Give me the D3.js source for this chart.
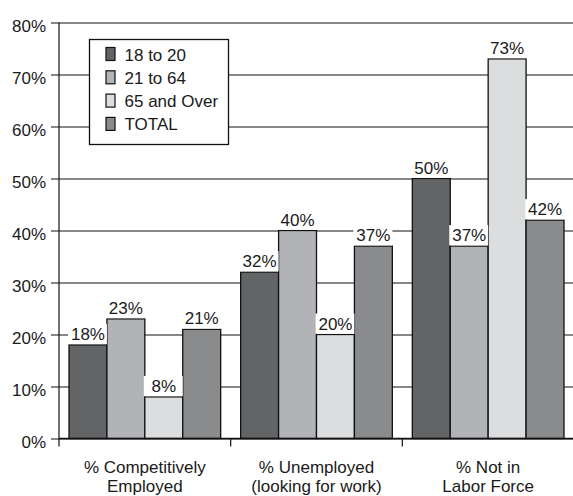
<!DOCTYPE html>
<html>
<head>
<meta charset="utf-8">
<script src="https://cdn.jsdelivr.net/npm/d3@7"></script>
<style>
  html, body { margin: 0; padding: 0; background: #fff; }
  svg { display: block; }
  text { font-family: "Liberation Sans", Arial, Helvetica, sans-serif; fill: #1a1a1a; }
</style>
</head>
<body>
<svg id="chart" width="573" height="496"></svg>
<script>
// Outcome categories (x axis), each drawn on two lines
const categories = [
  ["% Competitively", "Employed"],
  ["% Unemployed", "(looking for work)"],
  ["% Not in", "Labor Force"]
];
const seriesNames = ["18 to 20", "21 to 64", "65 and Over", "TOTAL"];
const seriesColors = ["#636466", "#b1b3b6", "#dcdddf", "#8a8b8d"];

// Percent values per age group, one entry per category
const age18to20 = [18, 32, 50];
const age21to64 = [23, 40, 37];
const age65over = [8, 20, 73];
const total     = [21, 37, 42];
const seriesValues = [age18to20, age21to64, age65over, total];

const yTicks = [0, 10, 20, 30, 40, 50, 60, 70, 80];

const svg = d3.select("#chart");
const margin = { left: 59, right: -1, top: 22.5, bottom: 57.5 };
const W = 573, H = 496;
const plotW = W - margin.left - margin.right;
const plotH = H - margin.top - margin.bottom;

const g = svg.append("g").attr("transform", `translate(${margin.left},${margin.top})`);

const x0 = d3.scaleBand().domain(d3.range(categories.length)).range([0, plotW]).padding(0);
const x1 = d3.scaleBand().domain(d3.range(seriesNames.length))
  .range([10, x0.bandwidth() - 10]).padding(0);
const y = d3.scaleLinear().domain([0, 80]).range([plotH, 0]);

// Horizontal gridlines with ticks reaching past the axis
const yAxis = d3.axisLeft(y).tickValues(yTicks).tickFormat(d => d + "%")
  .tickSize(-plotW - 8).tickPadding(6).tickSizeOuter(0);
const ya = g.append("g").call(yAxis);
ya.select(".domain").remove();
ya.selectAll(".tick line").attr("x1", -8).attr("x2", plotW).attr("stroke", "#111").attr("stroke-width", 1.2);
ya.selectAll(".tick text").attr("x", -13).attr("dy", "0.5em").attr("font-size", 17)
  .style("font-family", '"Liberation Sans", Arial, sans-serif').attr("fill", "#1a1a1a");

// Vertical axis line extending below zero
g.append("line").attr("x1", 0).attr("x2", 0).attr("y1", 0).attr("y2", plotH + 8)
  .attr("stroke", "#111").attr("stroke-width", 1.2);

// Category boundary ticks below the baseline
const bounds = d3.range(1, categories.length).map(i => x0(i));
g.selectAll(".xtick").data(bounds).join("line")
  .attr("x1", d => d).attr("x2", d => d).attr("y1", plotH).attr("y2", plotH + 8)
  .attr("stroke", "#111").attr("stroke-width", 1.2);

// Legend box
const lg = g.append("g").attr("transform", `translate(${89.5 - margin.left},${39.5 - margin.top})`);
lg.append("rect").attr("width", 139).attr("height", 105)
  .attr("fill", "#fff").attr("stroke", "#111").attr("stroke-width", 1.3);
seriesNames.forEach((name, i) => {
  const cy = 14.5 + i * 23.3;
  lg.append("rect").attr("x", 16.5).attr("y", cy - 6.5).attr("width", 9).attr("height", 13)
    .attr("fill", seriesColors[i]).attr("stroke", "#111").attr("stroke-width", 1.2);
  lg.append("text").attr("x", 35).attr("y", cy + 6.5).attr("font-size", 17).text(name);
});

// Bars grouped by category
const groups = g.selectAll(".grp").data(categories).join("g")
  .attr("transform", (d, i) => `translate(${x0(i)},0)`);

groups.each(function (cat, ci) {
  const grp = d3.select(this);
  seriesValues.forEach((vals, si) => {
    const v = vals[ci];
    grp.append("rect")
      .attr("x", x1(si)).attr("y", y(v))
      .attr("width", x1.bandwidth()).attr("height", plotH - y(v))
      .attr("fill", seriesColors[si]).attr("stroke", "#111").attr("stroke-width", 1.3);
  });
});

// Value labels on white backing above each bar
groups.each(function (cat, ci) {
  const grp = d3.select(this);
  seriesValues.forEach((vals, si) => {
    const v = vals[ci];
    grp.append("rect")
      .attr("x", x1(si) - 1).attr("y", y(v) - 21)
      .attr("width", x1.bandwidth() + 1).attr("height", 20.3)
      .attr("fill", "#fff");
    grp.append("text")
      .attr("x", x1(si) + x1.bandwidth() / 2).attr("y", y(v) - 5)
      .attr("text-anchor", "middle").attr("font-size", 17)
      .text(v + "%");
  });
});

// Baseline
g.append("line").attr("x1", 0).attr("x2", plotW).attr("y1", plotH).attr("y2", plotH)
  .attr("stroke", "#111").attr("stroke-width", 1.3);

// Category labels
categories.forEach((lines, i) => {
  const cx = x0(i) + 10 + (x0.bandwidth() - 20) / 2;
  const t = g.append("text").attr("text-anchor", "middle").attr("font-size", 17)
    .attr("x", cx).attr("y", plotH + 34.5);
  lines.forEach((ln, k) => {
    t.append("tspan").attr("x", cx).attr("dy", k === 0 ? 0 : 19).text(ln);
  });
});
</script>
</body>
</html>
